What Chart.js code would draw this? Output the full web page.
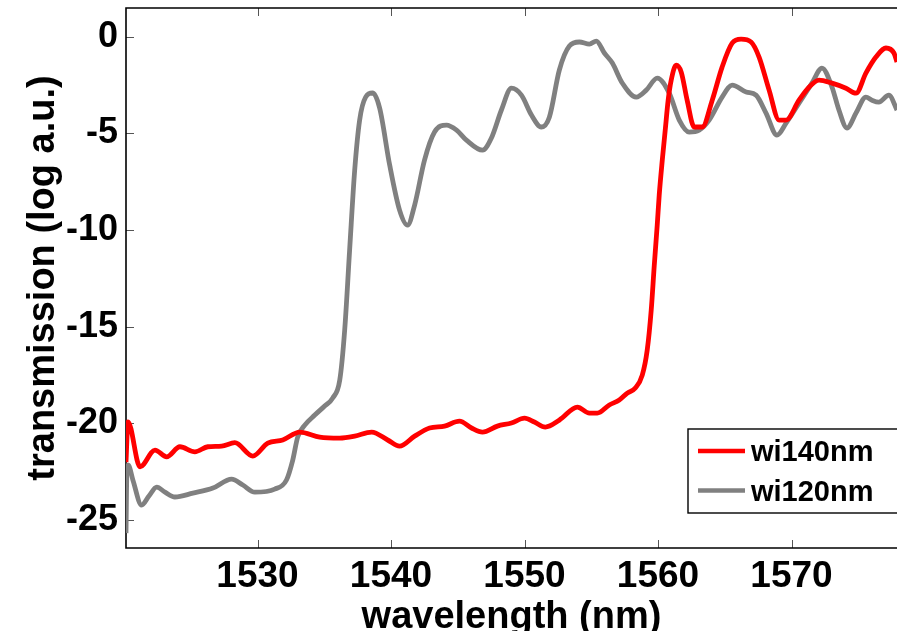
<!DOCTYPE html>
<html>
<head>
<meta charset="utf-8">
<script src="https://cdn.jsdelivr.net/npm/chart.js@4/dist/chart.umd.min.js"></script>
<style>
  html, body { margin: 0; padding: 0; background: #fff; }
  #wrap { width: 897px; height: 631px; }
</style>
</head>
<body>
<div id="wrap"><canvas id="c" width="897" height="631"></canvas></div>
<script>
// axis ranges and tick labels
const xMin = 1520.15, xMax = 1577.9;
const yMin = -26.46, yMax = 1.49;
const xTicks = [1530, 1540, 1550, 1560, 1570];
const yTicks = [0, -5, -10, -15, -20, -25];

// wi140nm spectrum
const redWl = [1520.15, 1520.30, 1521.20, 1522.32, 1523.19, 1524.19, 1525.31, 1526.28, 1527.31, 1528.30,
  1529.65, 1530.77, 1531.89, 1533.16, 1534.66, 1536.16, 1537.28, 1538.55, 1539.75, 1540.64,
  1541.77, 1542.89, 1544.01, 1545.13, 1546.03, 1546.85, 1547.97, 1549.02, 1550.00, 1550.74,
  1551.56, 1552.61, 1553.96, 1554.86, 1555.45, 1556.35, 1557.10, 1557.70, 1558.30, 1558.82,
  1559.19, 1559.49, 1559.72, 1559.94, 1560.09, 1560.32, 1560.54, 1560.76, 1560.99, 1561.36,
  1561.74, 1562.18, 1562.71, 1563.31, 1564.06, 1564.80, 1565.55, 1566.22, 1566.97, 1567.57,
  1568.32, 1569.07, 1569.59, 1570.56, 1571.31, 1572.06, 1573.03, 1574.08, 1574.83, 1575.57,
  1576.32, 1577.07, 1577.67, 1577.90];
const redT = [-22.02, -19.93, -22.26, -21.39, -21.74, -21.22, -21.48, -21.22, -21.19, -21.01,
  -21.70, -21.03, -20.87, -20.46, -20.72, -20.77, -20.67, -20.46, -20.87, -21.19,
  -20.67, -20.25, -20.15, -19.89, -20.25, -20.46, -20.15, -19.99, -19.74, -19.94,
  -20.20, -19.84, -19.17, -19.48, -19.48, -19.06, -18.80, -18.44, -18.18, -17.51,
  -16.22, -14.15, -11.82, -9.75, -8.19, -6.38, -4.83, -3.28, -2.24, -1.47,
  -1.83, -3.28, -4.67, -4.67, -3.28, -1.57, -0.33, -0.12, -0.27, -1.05,
  -2.76, -4.31, -4.31, -3.28, -2.61, -2.24, -2.40, -2.66, -2.92, -1.88,
  -1.05, -0.58, -0.84, -1.31];

// wi120nm spectrum
const grayWl = [1520.15, 1520.22, 1520.32, 1520.67, 1521.32, 1521.87, 1522.45, 1523.07, 1523.81, 1525.16,
  1526.66, 1528.06, 1528.90, 1529.80, 1531.29, 1532.17, 1532.64, 1533.01, 1533.54, 1534.29,
  1535.03, 1535.63, 1536.16, 1536.53, 1536.90, 1537.28, 1537.65, 1538.10, 1538.62, 1539.15,
  1539.90, 1540.64, 1541.24, 1541.77, 1542.51, 1543.26, 1544.16, 1544.91, 1545.65, 1546.85,
  1547.52, 1548.27, 1549.02, 1549.77, 1550.52, 1551.26, 1551.86, 1552.61, 1553.36, 1554.11,
  1554.86, 1555.38, 1555.98, 1556.58, 1557.32, 1558.37, 1559.12, 1559.94, 1560.84, 1561.59,
  1562.33, 1563.08, 1563.83, 1564.80, 1565.55, 1566.60, 1567.34, 1568.09, 1568.91, 1569.59,
  1570.56, 1571.53, 1572.28, 1573.03, 1573.55, 1574.15, 1574.83, 1575.57, 1576.02, 1576.54,
  1577.29, 1577.90];
const grayT = [-25.69, -22.43, -22.17, -22.95, -24.24, -23.77, -23.31, -23.57, -23.82, -23.62,
  -23.36, -22.89, -23.20, -23.57, -23.41, -22.94, -21.91, -20.72, -20.10, -19.58,
  -19.11, -18.70, -17.77, -15.18, -11.04, -6.90, -4.31, -3.12, -2.91, -3.69,
  -6.64, -8.97, -9.75, -8.71, -6.38, -4.93, -4.57, -4.83, -5.35, -5.87,
  -5.24, -3.79, -2.66, -3.02, -4.05, -4.67, -4.16, -1.72, -0.48, -0.27,
  -0.38, -0.22, -0.84, -1.36, -2.39, -3.12, -2.76, -2.14, -2.92, -4.31,
  -4.93, -4.83, -4.31, -3.12, -2.50, -2.86, -3.02, -3.95, -5.09, -4.47,
  -3.44, -2.40, -1.62, -2.60, -3.79, -4.72, -3.95, -3.12, -3.28, -3.38,
  -3.02, -3.79];

const FONT = '"Liberation Sans", Arial, sans-serif';

const pts = (xs, ys) => xs.map((x, i) => ({ x: x, y: ys[i] }));

// box round the plot with inward ticks on left, bottom and top
const frame = {
  id: 'frame',
  beforeDatasetsDraw(chart) {
    const { ctx, chartArea: a, scales } = chart;
    const x = scales.x, y = scales.y;
    ctx.save();
    ctx.strokeStyle = '#555';
    ctx.lineWidth = 1;
    ctx.beginPath();
    x.ticks.forEach(t => {
      const px = Math.round(x.getPixelForValue(t.value)) + 0.5;
      ctx.moveTo(px, a.bottom); ctx.lineTo(px, a.bottom - 8);
      ctx.moveTo(px, a.top); ctx.lineTo(px, a.top + 8);
    });
    y.ticks.forEach(t => {
      const py = Math.round(y.getPixelForValue(t.value)) + 0.5;
      ctx.moveTo(a.left, py); ctx.lineTo(a.left + 8, py);
    });
    ctx.stroke();
    ctx.strokeStyle = '#000';
    ctx.lineWidth = 1.6;
    ctx.beginPath();
    ctx.moveTo(a.right + 4, a.top);
    ctx.lineTo(a.left, a.top);
    ctx.lineTo(a.left, a.bottom);
    ctx.lineTo(a.right + 4, a.bottom);
    ctx.stroke();
    ctx.restore();
  }
};

// boxed legend in the lower right corner
const boxLegend = {
  id: 'boxLegend',
  afterDraw(chart) {
    const ctx = chart.ctx;
    const left = 688, top = 429, bottom = 513;
    ctx.save();
    ctx.fillStyle = '#fff';
    ctx.fillRect(left, top, chart.width - left + 4, bottom - top);
    ctx.strokeStyle = '#000';
    ctx.lineWidth = 1.4;
    ctx.strokeRect(left, top, chart.width - left + 4, bottom - top);
    ctx.font = 'bold 29px ' + FONT;
    ctx.textBaseline = 'middle';
    ctx.textAlign = 'left';
    chart.data.datasets.forEach((ds, i) => {
      const yy = 451 + i * 39.5;
      ctx.strokeStyle = ds.borderColor;
      ctx.lineWidth = 4.5;
      ctx.beginPath();
      ctx.moveTo(698, yy); ctx.lineTo(745, yy);
      ctx.stroke();
      ctx.fillStyle = '#000';
      ctx.fillText(ds.label, 751, yy + 2);
    });
    ctx.restore();
  }
};

new Chart(document.getElementById('c'), {
  type: 'line',
  data: {
    datasets: [
      { label: 'wi140nm', data: pts(redWl, redT), borderColor: '#ff0000' },
      { label: 'wi120nm', data: pts(grayWl, grayT), borderColor: '#808080' }
    ]
  },
  options: {
    responsive: false,
    animation: false,
    devicePixelRatio: 1,
    layout: { padding: { top: 8, right: 0, left: 0, bottom: 0 } },
    elements: {
      point: { radius: 0 },
      line: { borderWidth: 4.8, cubicInterpolationMode: 'monotone', fill: false, borderJoinStyle: 'round' }
    },
    plugins: { legend: { display: false }, tooltip: { enabled: false } },
    scales: {
      x: {
        type: 'linear', min: xMin, max: xMax,
        afterBuildTicks: s => { s.ticks = xTicks.map(v => ({ value: v })); },
        afterFit: s => { s.height = 83; s.paddingLeft = 0; s.paddingRight = 0; },
        grid: { display: false, drawTicks: false },
        border: { display: false },
        ticks: { color: '#000', padding: 7, maxRotation: 0, callback: v => String(v),
          font: { family: FONT, weight: 'bold', size: 37 } },
        title: { display: true, text: 'wavelength (nm)', color: '#000',
          font: { family: FONT, weight: 'bold', size: 38, lineHeight: 1 }, padding: { top: 0, bottom: -6 } }
      },
      y: {
        type: 'linear', min: yMin, max: yMax,
        afterBuildTicks: s => { s.ticks = yTicks.map(v => ({ value: v })); },
        afterFit: s => { s.width = 126; s.paddingTop = 0; s.paddingBottom = 0; },
        grid: { display: false, drawTicks: false },
        border: { display: false },
        ticks: { color: '#000', padding: 8, callback: v => String(v),
          font: { family: FONT, weight: 'bold', size: 36 } },
        title: { display: true, text: 'transmission (log a.u.)', color: '#000',
          font: { family: FONT, weight: 'bold', size: 38, lineHeight: 1 }, padding: { top: 25, bottom: 0 } }
      }
    }
  },
  plugins: [frame, boxLegend]
});
</script>
</body>
</html>
